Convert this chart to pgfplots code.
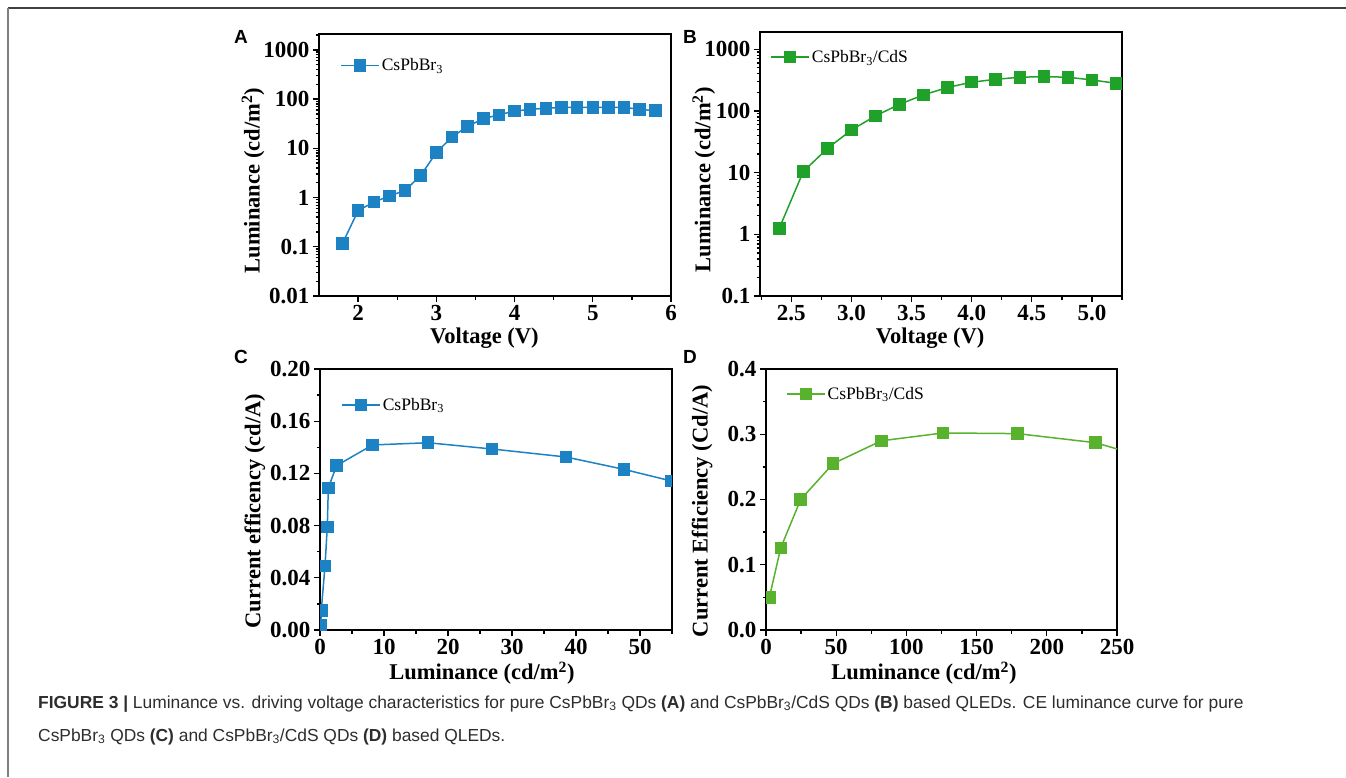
\documentclass[border=0pt]{standalone}
\usepackage{fontspec}
\setmainfont{Liberation Serif}
\newfontfamily\sansf{Liberation Sans}
\usepackage{pgfplots}
\pgfplotsset{compat=1.18}
\definecolor{cblue}{RGB}{28,130,195}
\definecolor{cgreenB}{RGB}{32,162,42}
\definecolor{cgreenD}{RGB}{88,178,46}
\definecolor{capgray}{RGB}{45,45,45}

\pgfplotstableread{
x y
1.8 0.117
2.0 0.54
2.2 0.81
2.4 1.07
2.6 1.4
2.8 2.8
3.0 8.2
3.2 17
3.4 28
3.6 40
3.8 48
4.0 57
4.2 62
4.4 65
4.6 68
4.8 68
5.0 68
5.2 68
5.4 68
5.6 62
5.8 58
}\tabA

\pgfplotstableread{
x y
2.4 1.25
2.6 10.4
2.8 24.6
3.0 49
3.2 83
3.4 128
3.6 182
3.8 240
4.0 292
4.2 325
4.4 351
4.6 360
4.8 351
5.0 318
5.2 280
}\tabB

\pgfplotstableread{
x y
0.12 0.004
0.2 0.015
0.78 0.049
1.14 0.079
1.3 0.109
2.6 0.126
8.2 0.1418
16.9 0.1435
26.9 0.1387
38.4 0.1326
47.5 0.1231
54.9 0.1142
}\tabC

\pgfplotstableread{
x y
2.4 0.050
10.5 0.126
24.7 0.200
47.8 0.255
82.2 0.290
126.2 0.302
179 0.301
234.8 0.287
262 0.270
}\tabD

\pgfplotsset{
 panel/.style={
  scale only axis,
  axis line style={line width=1.5pt},
  tick align=outside, xtick pos=bottom, ytick pos=left,
  major tick length=6pt, minor tick length=3.5pt,
  every tick/.style={line width=1.3pt, black},
  tick label style={font=\fontsize{23}{25}\selectfont\bfseries},
  label style={font=\fontsize{22.5}{24}\selectfont\bfseries},
  /pgf/number format/assume math mode=true,
  legend style={draw=none, fill=none, font=\fontsize{17.5}{19}\selectfont, anchor=west, inner sep=0pt},
  legend cell align=left,
  legend image code/.code={\draw[mark repeat=2,mark phase=2,##1] plot coordinates {(0pt,0pt) (19pt,0pt) (38pt,0pt)};},
  clip marker paths=true,
 },
 ser/.style={line width=1.5pt, mark=square*, mark size=5.5pt, mark options={solid}},
}

\begin{document}
\begin{tikzpicture}
\useasboundingbox (0pt,0pt) rectangle (1346pt,-777pt);
% frame
\draw[line width=2pt, black!75] (8pt,-8pt) -- (1346pt,-8pt);
\draw[line width=2.2pt, black!50] (8pt,-8pt) -- (8pt,-777pt);

% Panel A
\begin{axis}[panel, at={(319pt,-296pt)}, anchor=south west, width=352pt, height=262pt,
  ymode=log, xmin=1.5, xmax=6, ymin=0.01, ymax=2100,
  xtick={2,3,4,5,6}, minor xtick={2.5,3.5,4.5,5.5},
  ytick={0.01,0.1,1,10,100,1000}, yticklabels={0.01,0.1,1,10,100,1000},
  minor ytick={0.02,0.03,0.04,0.05,0.06,0.07,0.08,0.09,0.2,0.3,0.4,0.5,0.6,0.7,0.8,0.9,2,3,4,5,6,7,8,9,20,30,40,50,60,70,80,90,200,300,400,500,600,700,800,900,2000},
  xlabel={Voltage (V)}, ylabel={Luminance (cd/m\textsuperscript{2})},
  xlabel style={at={(ticklabel cs:0.47)}},
  ylabel style={at={(axis description cs:-0.1875,0.44)}, anchor=center},
  legend style={at={(0.06,0.88)}}]
\addplot[ser, color=cblue] table {\tabA};
\addlegendentry{CsPbBr\textsubscript{3}}
\end{axis}

% Panel B
\begin{axis}[panel, at={(760pt,-296pt)}, anchor=south west, width=362pt, height=264pt,
  ymode=log, xmin=2.24, xmax=5.25, ymin=0.1, ymax=1900,
  xtick={2.5,3.0,3.5,4.0,4.5,5.0}, xticklabels={2.5,3.0,3.5,4.0,4.5,5.0},
  minor xtick={2.25,2.75,3.25,3.75,4.25,4.75,5.25},
  ytick={0.1,1,10,100,1000}, yticklabels={0.1,1,10,100,1000},
  minor ytick={0.2,0.3,0.4,0.5,0.6,0.7,0.8,0.9,2,3,4,5,6,7,8,9,20,30,40,50,60,70,80,90,200,300,400,500,600,700,800,900},
  xlabel={Voltage (V)}, ylabel={Luminance (cd/m\textsuperscript{2})},
  xlabel style={at={(ticklabel cs:0.47)}},
  ylabel style={at={(axis description cs:-0.155,0.44)}, anchor=center},
  legend style={at={(0.028,0.905)}}]
\addplot[ser, color=cgreenB] table {\tabB};
\addlegendentry{CsPbBr\textsubscript{3}/CdS}
\end{axis}

% Panel C
\begin{axis}[panel, at={(320pt,-630pt)}, anchor=south west, width=352pt, height=261pt,
  xmin=0, xmax=55, ymin=0, ymax=0.2,
  xtick={0,10,20,30,40,50}, minor xtick={5,15,25,35,45,55},
  ytick={0,0.04,0.08,0.12,0.16,0.20}, yticklabels={0.00,0.04,0.08,0.12,0.16,0.20},
  minor ytick={0.02,0.06,0.10,0.14,0.18},
  xlabel={Luminance (cd/m\textsuperscript{2})}, ylabel={Current efficency (cd/A)},
  xlabel style={at={(ticklabel cs:0.46)}},
  ylabel style={at={(axis description cs:-0.185,0.456)}, anchor=center},
  legend style={at={(0.06,0.862)}}]
\addplot[ser, color=cblue] table {\tabC};
\addlegendentry{CsPbBr\textsubscript{3}}
\end{axis}

% Panel D
\begin{axis}[panel, at={(766pt,-630pt)}, anchor=south west, width=351pt, height=261pt,
  xmin=0, xmax=250, ymin=0, ymax=0.4,
  xtick={0,50,100,150,200,250}, minor xtick={25,75,125,175,225},
  ytick={0,0.1,0.2,0.3,0.4}, yticklabels={0.0,0.1,0.2,0.3,0.4},
  minor ytick={0.05,0.15,0.25,0.35},
  xlabel={Luminance (cd/m\textsuperscript{2})}, ylabel={Current Efficiency (Cd/A)},
  xlabel style={at={(ticklabel cs:0.45)}},
  ylabel style={at={(axis description cs:-0.182,0.456)}, anchor=center},
  legend style={at={(0.057,0.904)}}]
\addplot[ser, color=cgreenD] table {\tabD};
\addlegendentry{CsPbBr\textsubscript{3}/CdS}
\end{axis}

% panel letters
\node[anchor=north west, inner sep=0pt, font=\sansf\bfseries\fontsize{19}{21}\selectfont] at (234pt,-30pt) {A};
\node[anchor=north west, inner sep=0pt, font=\sansf\bfseries\fontsize{19}{21}\selectfont] at (683pt,-30pt) {B};
\node[anchor=north west, inner sep=0pt, font=\sansf\bfseries\fontsize{19}{21}\selectfont] at (234pt,-350pt) {C};
\node[anchor=north west, inner sep=0pt, font=\sansf\bfseries\fontsize{19}{21}\selectfont] at (683pt,-350pt) {D};

% caption
\node[anchor=base west, inner sep=0pt, text=capgray, font=\sansf\fontsize{17.4}{20}\selectfont] at (38pt,-708pt)
 {\textbf{FIGURE 3 |} Luminance vs. driving voltage characteristics for pure CsPbBr\textsubscript{3} QDs \textbf{(A)} and CsPbBr\textsubscript{3}/CdS QDs \textbf{(B)} based QLEDs. CE luminance curve for pure};
\node[anchor=base west, inner sep=0pt, text=capgray, font=\sansf\fontsize{17.4}{20}\selectfont] at (38pt,-741pt)
 {CsPbBr\textsubscript{3} QDs \textbf{(C)} and CsPbBr\textsubscript{3}/CdS QDs \textbf{(D)} based QLEDs.};
\end{tikzpicture}
\end{document}
